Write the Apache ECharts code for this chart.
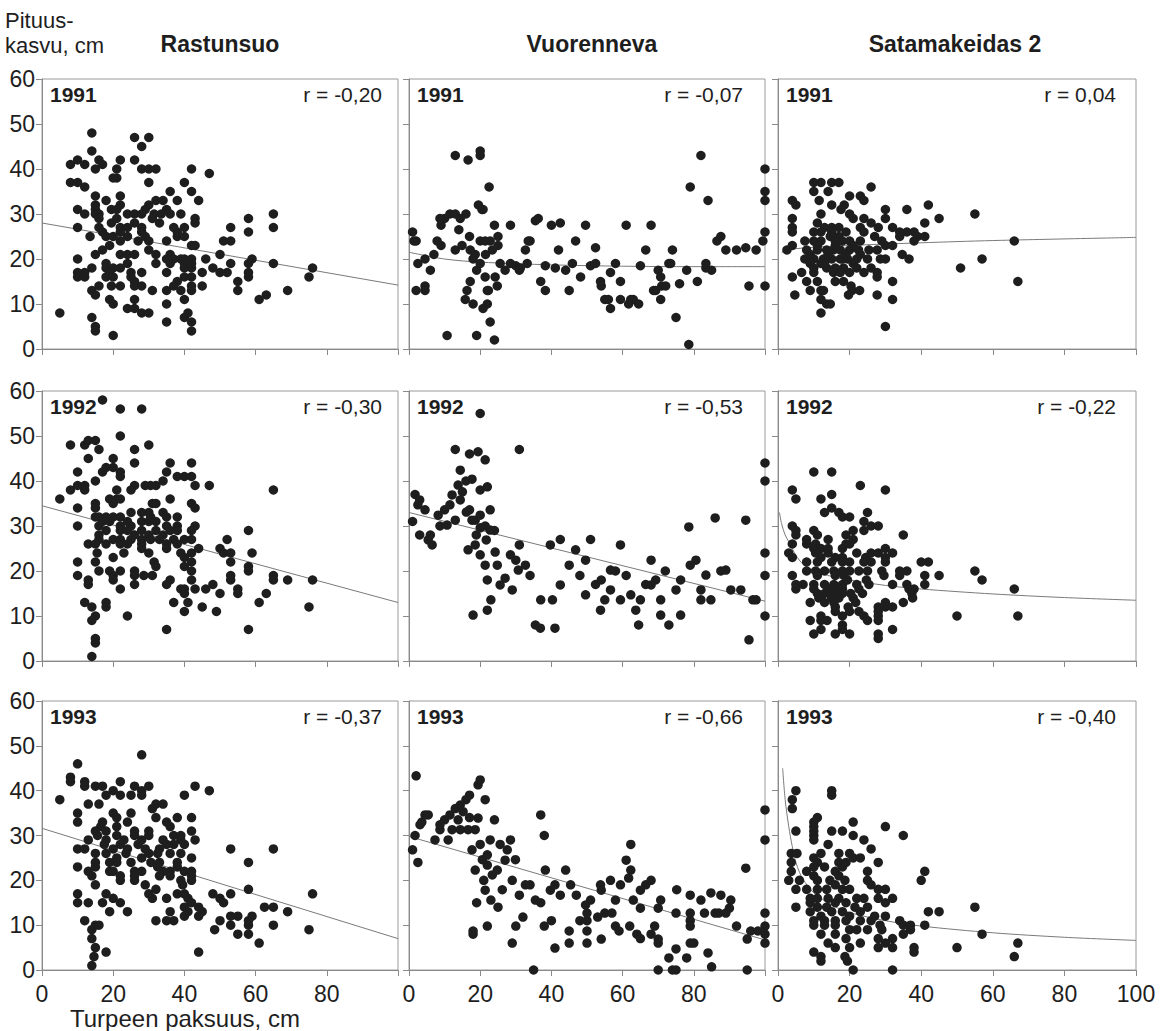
<!DOCTYPE html>
<html><head><meta charset="utf-8">
<script src="https://cdn.jsdelivr.net/npm/echarts@6/dist/echarts.min.js"></script>
<style>html,body{margin:0;padding:0;background:#fff}#c{width:1166px;height:1031px}</style>
</head><body><div id="c"></div>
<script>
// ---------- DATA ----------
const sites = ['Rastunsuo', 'Vuorenneva', 'Satamakeidas 2'];
const years = ['1991', '1992', '1993'];
const rLabels1991 = ['r = -0,20', 'r = -0,07', 'r = 0,04'];
const rLabels1992 = ['r = -0,30', 'r = -0,53', 'r = -0,22'];
const rLabels1993 = ['r = -0,37', 'r = -0,66', 'r = -0,40'];
const xTicks = [0, 20, 40, 60, 80, 100];
const yTicks = [0, 10, 20, 30, 40, 50, 60];
const yAxisTitle = ['Pituus-', 'kasvu, cm'];
const xAxisTitle = 'Turpeen paksuus, cm';

const rast91 = [[14,48],[26,47],[30,47],[28,45],[14,44],[8,41],[10,42],[12,41],[16,42],[17,41],[15,40],[22,42],[21,40],[21,38],[20,38],[26,42],[28,40],[30,40],[32,40],[30,37],[42,40],[47,39],[8,37],[10,37],[12,36],[40,37],[42,35],[36,35],[44,33],[38,33],[15,34],[15,32],[18,33],[22,34],[22,32],[15,31],[16,30],[15,30],[19.5,31],[21,31],[10,31],[12,30],[16,29],[30,32],[32,33],[34,33],[29,31],[31.5,30],[33.5,30],[35,31],[36,30],[24,30],[26,30],[28,30],[39,30],[31,29],[33,28],[43,29],[43,28],[10,27],[16,27],[19.5,28],[21,29],[22,27],[24,27],[26,28],[28,27],[37,27],[40,27],[38,26],[13.5,25],[17,26],[18,25],[20,25],[22,26],[24,25],[28,26],[29,25],[30,24],[27,24],[22,24],[19,23],[35,24],[38,25],[40,25],[53,27],[58,29],[58,26],[65,30],[65,27],[51,24],[53,24],[30,22],[42,23],[43,23],[17,22],[15,21],[22,21],[24,21],[26,21],[32,21],[36,21],[50,21],[10,20],[35,20],[37,20],[39,20],[40,20],[42,20],[46,20],[59,20],[18,19],[24,19],[32,19],[36,19],[40,19],[42,19],[53,19],[58,19],[65,19],[10,17],[12,17],[14,18],[18,18],[20,18],[22,18],[19,17],[25,17],[28,17],[35,17],[40,18],[42,18],[45,17],[48,18],[50,17],[52,17],[76,18],[75,16],[10,16],[12,16],[18,16],[20,16],[25,16],[40,16],[42,16],[58,17],[58,16],[26,15],[38,15],[55,15],[14,13],[16,14],[19.5,14],[22,14],[26,14],[28,14],[31,13],[35,13],[37,14],[39,13],[42,14],[42,13],[45,14],[55,13],[69,13],[15,12],[26,11],[40,11],[63,12],[61,11],[19,11],[20,10],[24,9],[26,9],[28,8],[30,8],[35,10],[5,8],[14,7],[40,7],[41,8],[35,6],[42,6],[15,5],[15,4],[42,4],[20,3]];

const vuor91 = [[1,26],[2,24],[2.5,19],[2,13],[4.5,14],[6,17.5],[7,21],[9,23],[9,27.5],[10,29],[11.5,30],[10.7,3],[13,22],[14,26.5],[16,30],[17,25],[18,20],[19,17.5],[19.5,32],[20.5,31],[20,24],[21.5,21],[22,13],[22,10],[19,3],[24,2],[24,27.5],[25,23],[25.6,19],[24.8,14],[27,17.5],[28.5,27.5],[30,18.5],[31,17.5],[32.7,22],[34,24],[35.5,28.5],[37,15],[38.3,18.5],[40,27.5],[42,22],[44,17.5],[45,13],[46.8,24],[49.6,27.5],[51,18.5],[52.4,22.5],[54,14],[55,11],[56.6,17],[58,19],[59.4,11],[61,27.5],[61.7,10],[63,11],[64.5,10],[65,18.5],[66.5,22],[68,27.5],[68.7,13],[70,17.5],[71,14],[73,19],[74,22],[75,7],[76,14.5],[78,17.5],[78.6,1],[79,36],[81,15],[82,43],[83.4,18],[84,33],[85,17.5],[86.5,24],[87.6,25],[89,22],[92,22],[94.6,22.5],[95.5,14],[97.5,22],[99.4,24],[100,40],[100,35],[100,33],[100,26],[100,14],[13,43],[20,44],[20,43],[16.6,42],[22.5,36],[1.4,24],[4.5,20],[4.5,13],[7.9,24],[8.7,29],[13,30],[14.4,29],[14.9,23],[17.2,22],[18.6,21],[20.8,31],[21.4,24],[22.8,24],[23.4,22],[25,25],[24.2,16],[22.3,13],[21.4,16],[20,19],[17.2,15],[16.3,13],[15.8,11],[18,10],[20.8,9],[22.8,6],[28.5,19],[31.3,18],[33.2,19],[36.3,29],[33.5,24],[42.5,28],[38.3,13],[41.1,18],[45.9,19],[48.2,16],[52.4,19],[53.8,15],[56,11],[56.6,9],[59.4,15],[62.3,11],[69.3,13],[70.7,16],[70.7,11],[72.1,14],[73.5,19],[83.4,19]];

const sata91 = [[10,37],[12,37],[15,37],[17,37],[26,36],[10,35],[14,35],[11.5,33],[15,32],[20,34],[23,34],[24,33],[4,33],[5,32],[18.5,32],[17.6,31],[20,30],[21,29],[12,30],[11,28],[4,29],[4,27],[4,26],[30,31],[30,29],[36,31],[42,32],[45,29],[55,30],[41,28],[24,29],[26,28],[23,27],[15,27],[13,27],[17,27],[12,26],[10,26],[19,26],[28,27],[32,27],[24,26],[27,25],[34,26],[36,26],[38,26],[41,25],[39,25],[34,25],[38,24],[7.5,24],[10,24],[12,24],[14.6,25],[17,25],[18,24],[20,24],[23,24],[16,23],[29,24],[30,23],[32,23],[66,24],[2.5,22],[4,23],[8,22],[11,22],[13.6,22],[15.5,22],[17.4,22],[20,22],[22.5,22],[25.4,22],[27.7,22],[7.5,20],[10,20],[12.7,20],[15,20],[17.4,20],[19.4,20],[23,21],[25,20],[28.6,20],[30,20],[34.7,21],[36.6,20],[57,20],[9,19],[12,19],[13.6,18],[16,18],[18.3,18],[21,19],[22,18],[26,18],[10,18],[51,18],[4,16],[6.6,17],[10,17],[15.5,17],[17.4,17],[20,17],[24,17],[27.7,17],[27.7,16],[8,15],[11,15],[16,15],[18.3,15],[20.4,14],[32,15],[67,15],[9,13],[12,13],[12.7,13],[20.7,13],[22.8,13],[4.7,12],[19.7,12],[27.7,12],[12,11],[32,11],[13.6,10],[14.6,10],[12,8],[30,5],[14,21],[16,24],[19,21],[21,23],[13,19],[18,20],[22,20],[11,23],[15,26],[9,21]];

const rast92 = [[17,58],[22,56],[28,56],[22,50],[8,48],[12,48],[13,49],[15,49],[16,47],[13,45],[20,45],[26,47],[26,44],[30,48],[10,42],[17,42],[18,43],[20,43],[22,42],[22,41],[15,40],[36,44],[42,44],[35,42],[38,41],[40,41],[42,41],[34,40],[8,38],[10,39],[12,39],[12,38],[21,38],[26,39],[25,38],[29,39],[30.5,39],[32,39],[43,39],[47,39],[65,38],[5,36],[19,36],[21,36],[22,36],[20,35],[15,35],[10,34],[15,34],[31,35],[32,35],[36,36],[42,35],[43,34],[15,32],[16,32],[18,32],[20,32],[22,32],[25,33],[28,33],[30,33],[30.5,32],[34,33],[35,32],[38,32],[10,30],[16,30],[17,31],[19,31],[22,30],[24,31],[25,30],[28,31],[30,31],[32,31],[35,30],[38,30],[43,30],[16,28],[18,29],[22,29],[24,29],[26,28],[28,29],[30,28],[32,29],[34,28],[36,29],[38,29],[42,29],[58,29],[16,27],[20,27],[22,27],[25,27],[28,27],[30.5,27],[33,27],[37,27],[40,27],[42,27],[52,27],[13,26],[15,26],[18,26],[22,26],[24,26],[28,26],[35,26],[38,26],[28,25],[35,25],[44,25],[50,25],[15.5,24],[20,23],[23,24],[30,24],[39,24],[42,24],[51,24],[53,24],[59,24],[15,22],[10,22],[31.5,22],[40,23],[42,22],[53,22],[58,21],[16,20],[19,20],[22,20],[26,20],[32,21],[40,21],[42,20],[58,20],[10,19],[20,19],[26,19],[28.6,19],[31,19],[53,19],[65,19],[65,18],[69,18],[76,18],[13,18],[20,18],[36,18],[42,18],[53,18],[13,17],[26,17],[35,17],[22,16],[39,16],[40,16],[43,16],[46,16],[48,17],[55,16],[40,15],[50,15],[55,15],[63,15],[12,13],[18,13],[37,13],[41,13],[61,13],[14,12],[18,12],[45,12],[75,12],[40,11],[49,11],[24,10],[15,10],[14,9],[35,7],[58,7],[15,5],[15,4],[14,1]];

const vuor92 = [[20,55],[13,47],[17,46],[19.4,46.5],[21.4,44.7],[31,47],[14.4,42.4],[16,40],[17.7,40.4],[20,38],[22,38.7],[1.7,37],[3,35.8],[4.5,33.6],[6,28],[3,28],[8.7,30],[10,33.6],[11.5,34.7],[13,31.3],[14.4,35.8],[17,33.6],[18.6,31.3],[20,32.4],[21.4,30],[22.8,33.6],[24,29],[16.6,24.7],[18.6,25.8],[20,23.6],[21.4,21.3],[22,18],[23,13.6],[22,11.3],[18,10.2],[28.5,23.6],[30,22.4],[31,25.8],[34,19],[37,13.6],[35.5,8],[41,7.3],[39.7,25.8],[42.5,27],[45,21.3],[48,19],[49.6,22.4],[51,27],[52.4,17],[54,18],[55,13.6],[56.6,15.8],[58,20],[59.4,25.8],[61,19],[62.3,14.7],[63.7,11.3],[64.5,8],[66.5,17],[68,22.4],[69.3,18],[70.7,13.6],[72,20],[73,8],[75,15.8],[76.3,10.2],[78.6,29.8],[80.6,22.4],[82,15.8],[84.8,13.6],[86,31.8],[87.6,20],[90.4,15.8],[94.6,31.3],[95.5,4.7],[97.5,13.6],[100,44],[100,40],[100,19],[100,10],[100,24],[1,31],[2.5,34.7],[5.4,26.9],[6.5,25.8],[8.2,32.4],[10.7,30.2],[12.1,36.9],[13.8,39.1],[15,37.6],[16.1,33.1],[17.7,31.3],[18.9,28],[20,29.6],[21.7,26.9],[22.8,29.1],[24.2,24.2],[24.8,21.3],[25.6,16.9],[27,18.4],[29,15.8],[30.7,20.2],[32.7,21.3],[36.9,7.3],[40.3,13.6],[42.5,16.9],[46.8,24.7],[49.6,14.7],[53.8,11.3],[56.6,20.2],[59.4,13.6],[65,13.6],[68,16.9],[70.7,10.2],[76.3,18],[79,21.3],[82,13.6],[83.4,19.1],[89,20.2],[93.2,15.8],[96.6,13.6]];

const sata92 = [[10,42],[15,42],[23,39],[30,38],[4,38],[5,36],[12,36],[15,37],[15,34],[13,33],[17,33],[18,32],[20,32],[25,33],[24,31],[26,30],[28,30],[24,29],[21,29],[4,30],[5,29],[5,28],[10,29],[11,28],[19,28],[35,28],[4,26],[8,27],[8,26],[10.5,26],[14,27],[21,27],[20,26],[10,25],[12,25],[14,25],[18,25],[19,26],[3,24],[4,23],[10.5,24],[12,23],[14,24],[16,23],[18,23],[22,24],[26,24],[28,24],[30,25],[30,23],[32,24],[24.5,23],[8,22],[11,22],[15,22],[18,22],[20,22],[24,22],[26,22],[30,22],[40,22],[42,22],[8,20],[10.5,20],[13,20],[15.6,20],[18,20],[20,20],[22.6,20],[25,20],[29,20],[34,20],[36,20],[55,20],[4,19],[11,19],[16,19],[18.4,19],[29.6,19],[34,19],[41,19],[45,19],[5,17],[7,17],[10,17],[13,17],[15.6,17],[18,17],[19.4,18],[22,17],[24.7,18],[25.4,17],[32,17],[36,17],[41,17],[57,18],[5,16],[10,16],[14.7,16],[16,16],[18,16],[22.6,16],[36.6,16],[38,16],[11,15],[13,15],[15.6,15],[18,15],[20.3,15],[23.6,15],[37.4,15],[66,16],[11.4,14],[15,14],[17,14],[21,14],[37.6,14],[9,13],[13,13],[15.6,13],[21.7,13],[30,13],[35,13],[16,12],[19.6,12],[28,12],[30,12],[32,12],[16,11],[20,11],[22.6,11],[28,11],[12,10],[18,10],[24,10],[28,10],[50,10],[67,10],[9,9],[12,9],[13.7,9],[25,9],[28,9],[18,8],[12,7],[18,7],[32,7],[10,6],[16,6],[20,6],[28,6],[28,5]];

const rast93 = [[28,48],[10,46],[8,43],[8,42],[5,38],[12,42],[12,41],[15,41],[17,41],[22,42],[26,41],[28,40],[30,41],[43,41],[47,40],[40,39],[20,40],[18,39],[22,39],[25,39],[28,39],[13,37],[16,37],[32,37],[34,37],[31,36],[10,35],[10,33],[20,35],[25,35],[21,34],[24,33],[32,34],[38,34],[42,34],[35,33],[17,33],[16.5,32],[15,31],[21,32],[18,31],[26,31],[30,31],[36,32],[42,31],[13,29],[15.6,30],[18,29],[21,30],[23,29],[26,30],[28,29],[30,30],[34,29],[37,30],[39,30],[39,29],[43,29],[10,27],[12,27],[17.5,28],[20,27],[22,28],[24,27],[27,28],[29,27],[33,27],[35,28],[37,28],[40,28],[53,27],[65,27],[15,26],[18,26],[21,25],[23.6,26],[30,26],[32.5,26],[36,26],[39,26],[42,25],[15,24],[19,24],[21,24],[25,24],[28,25],[30.6,24],[33,24],[38,24],[58,24],[10,23],[15,23],[26,22],[28,22],[32.5,23],[34,22],[36,22],[38,23],[40,22],[42,22],[13,22],[14,21],[19,22],[20,22],[22,21],[26,21],[33,21],[36,21],[42,21],[15,19],[22,20],[26,20],[29,19],[39,20],[39.5,19],[42,20],[10,17],[18,17],[30,17],[32,18],[38,17],[40,17],[48,17],[53,17],[58,18],[76,17],[10,15],[13,15],[17,15],[20,16],[22,15],[31,16],[35,16],[41,16],[42,15],[50,16],[51,15],[19,13],[24,13],[36,13],[40,14],[41,13],[44,14],[45,13],[62.5,14],[65,14],[69,13],[12,11],[32,11],[35,11],[37,11],[40,12],[44,12],[50,11],[53,12],[55,12],[59,12],[14,9],[15,10],[16,10],[48.5,9],[53,10],[58,10],[58,11],[65,10],[75,9],[14,7],[55,8],[58,8],[61,6],[15,5],[18,4],[14.6,3],[44,4],[14,1]];

const vuor93 = [[1.7,30],[2.5,24],[1,26.8],[2,43.3],[3.6,33],[4.5,34.6],[8.7,31.3],[10,33.5],[11.5,34.6],[13,36],[14.4,36.8],[16,38],[17,39],[19.4,41.3],[20,42.4],[21.4,38],[17,34],[14.4,31.3],[18.6,31.3],[20,28],[22.8,29],[24,33.5],[25.6,28],[27,24.5],[22,23.4],[21,20],[21.4,17.8],[18.6,22.3],[23,15.6],[28.5,29],[29,20],[31,16.7],[34,19],[37,34.6],[38,30],[39.7,17.8],[41,19],[44,22.3],[47,16.7],[51,15.6],[54,17.8],[56.6,20],[59.4,19],[61,24.5],[62.3,22.3],[62.3,28],[65,17.8],[68,20],[79,16.7],[82,15.6],[87.6,16.7],[94.6,22.7],[100,29],[100,35.7],[19,15],[25,14],[18,8],[18,8.7],[22,9.8],[29,6],[30,9.8],[32,11.8],[35,0],[37,15],[38,9.8],[40,11],[41,4.9],[45,8.7],[45,6],[48,11],[50,12.7],[50,11],[50,8.7],[50,6],[53,11.8],[54,6.9],[55,12.7],[57,12.7],[58,9.8],[59,8.7],[62,9.8],[63,15.6],[65,13.8],[64,8],[65,7],[68,8],[69,9.8],[70,6.9],[70,6],[70,13.8],[70,0],[73,2.7],[75,4.7],[74,0],[75,0],[75,12.7],[78,2.7],[79,12.7],[79,11],[79,9.8],[79,6],[80,6],[83,12.7],[84,3.8],[85,0.7],[86,12.7],[87,12.7],[89,12.7],[90,13.8],[92,9.8],[95,6.9],[96,8.7],[98,8.7],[95,0],[100,12.7],[100,9.8],[100,8],[100,6],[3.1,32.4],[5.4,34.6],[7.3,29],[8.7,32.4],[11,29],[12.1,31.3],[13.8,33.5],[15.2,35.3],[16.6,31.3],[17.7,26.8],[19.4,33.9],[20.6,24.6],[22,25.7],[23.4,21.2],[24.8,22.3],[26.2,17.9],[27.6,26.8],[29.9,24.6],[32.7,19],[35.5,15.6],[38.3,22.3],[42.5,16.7],[45.4,19],[49.6,14.5],[53.8,19],[58,15.6],[61.7,20.5],[66.5,19],[70.7,15.6],[75.2,17.9],[84.8,17.2],[90.4,15.6]];

const sata93 = [[5,40],[15,40],[15,39],[4,38],[4,36],[11,34],[10,33],[10,32],[21,33],[30,32],[5,31],[10,31],[15,31],[18,31],[10,30],[21,30],[35,30],[10,29],[24,29],[14,28],[26,27],[3.7,26],[5.3,26],[12,26],[17,26],[20,26],[21,25],[23,25],[3.7,24],[10,25],[11,24],[17,24],[19,24],[28,24],[3.7,22],[8,22],[10,23],[13,23],[16,22],[18,23],[25,22],[41,22],[3,20],[6,20],[10,21],[11,20],[14.5,20],[17,21],[18.7,20],[25,20],[40,20],[26,19],[5,18],[8,18],[11,18],[13.6,18],[16,19],[18,18],[20,18],[28,18],[30,18],[9,16],[11,16],[14,16],[17,16],[22,16],[24,16],[28,16],[32,16],[5,14],[9,15],[11,14],[13.6,14],[16,15],[19,15],[21.5,14],[25,14],[30,15],[55,14],[42,13],[45,13],[9,13],[12,12],[15,13],[18,13],[20,12],[23,13],[27,12],[30,12],[10,11],[13,11],[16,11],[19,11],[23,11],[26,11],[34,11],[35,10],[37,10],[41,10],[10,10],[13,10],[16,10],[20,9],[22,9],[25,9],[28.5,10],[29,9],[37,9],[35,8],[57,8],[12,8],[16,8],[19,7],[28,7],[32,7],[14,6],[16,5],[20,5],[23,6],[28,5],[30,6],[32,5],[38,5],[38,4],[50,5],[67,6],[10,4],[12,3],[12,2],[18.7,3],[19.4,2],[21,0],[32,0],[66,3]];

// regression curves
const rast91Fit = [[0,28],[100,14.2]];
const vuor91Fit = [[0,21.5],[10,20],[20,19.3],[40,18.7],[60,18.4],[80,18.3],[100,18.3]];
const sata91Fit = [[1,21.5],[5,22.3],[20,23],[40,23.6],[60,24.1],[100,24.8]];
const rast92Fit = [[0,34.5],[100,13]];
const vuor92Fit = [[0,33],[100,13.3]];
const sata92Fit = [[0.4,33],[1,30.5],[2,28],[3,26.5],[5,23.5],[7,21.5],[10,20],[15,18.8],[20,18],[30,16.8],[40,16],[60,14.9],[80,14.1],[100,13.5]];
const rast93Fit = [[0,31.6],[100,7]];
const vuor93Fit = [[0,29.8],[100,6.7]];
const sata93Fit = [[1.3,45],[2,38],[3,32],[4,27.5],[5,24],[6,21.8],[7,20.2],[10,17.2],[15,14.5],[20,12.8],[30,11],[40,9.8],[60,8.3],[80,7.3],[100,6.6]];

// ---------- LAYOUT ----------
const panels = [
  [rast91, vuor91, sata91],
  [rast92, vuor92, sata92],
  [rast93, vuor93, sata93]
];
const fits = [
  [rast91Fit, vuor91Fit, sata91Fit],
  [rast92Fit, vuor92Fit, sata92Fit],
  [rast93Fit, vuor93Fit, sata93Fit]
];
const rLabels = [rLabels1991, rLabels1992, rLabels1993];

const L = [42, 409, 778], W = [356, 356, 358];
const T = [79, 391, 701], H = [270, 270, 269];
const FONT = '"Liberation Sans", Arial, Helvetica, sans-serif';
const INK = '#1e1e1e';
const LINE = '#8a8a8a';

const grid = [], xAxis = [], yAxis = [], series = [], graphic = [];
for (let r = 0; r < 3; r++) {
  for (let c = 0; c < 3; c++) {
    const g = r * 3 + c;
    grid.push({left: L[c], top: T[r], width: W[c], height: H[r], show: true,
      borderColor: '#9a9a9a', borderWidth: 1, containLabel: false});
    const xMin = xTicks[0], xMax = xTicks[xTicks.length - 1];
    const yMin = yTicks[0], yMax = yTicks[yTicks.length - 1];
    const xBase = {gridIndex: g, type: 'value', min: xMin, max: xMax, interval: xTicks[1] - xTicks[0],
      splitLine: {show: false}, axisLine: {onZero: false, lineStyle: {color: LINE, width: 1}}};
    const yBase = {gridIndex: g, type: 'value', min: yMin, max: yMax, interval: yTicks[1] - yTicks[0],
      splitLine: {show: false}, axisLine: {onZero: false, lineStyle: {color: LINE, width: 1}}};
    xAxis.push(Object.assign({}, xBase, {
      axisTick: {show: true, inside: false, length: 6, lineStyle: {color: LINE}},
      axisLabel: {show: r === 2, margin: 12, color: INK, fontSize: 23, fontFamily: FONT,
        formatter: v => (c < 2 && v === xMax) ? '' : String(v)}
    }));
    xAxis.push(Object.assign({}, xBase, {
      axisLine: {show: false}, axisLabel: {show: false},
      axisTick: {show: true, inside: true, length: 6, lineStyle: {color: LINE}}
    }));
    yAxis.push(Object.assign({}, yBase, {
      axisTick: {show: true, inside: false, length: 6, lineStyle: {color: LINE}},
      axisLabel: {show: c === 0, margin: 7, color: INK, fontSize: 23, fontFamily: FONT}
    }));
    yAxis.push(Object.assign({}, yBase, {
      axisLine: {show: false}, axisLabel: {show: false},
      axisTick: {show: true, inside: true, length: 6, lineStyle: {color: LINE}}
    }));
    series.push({type: 'line', xAxisIndex: 2 * g, yAxisIndex: 2 * g, data: fits[r][c],
      showSymbol: false, smooth: fits[r][c].length > 2 ? 0.3 : false, silent: true,
      lineStyle: {color: '#7a7a7a', width: 1}, z: 1});
    series.push({type: 'scatter', xAxisIndex: 2 * g, yAxisIndex: 2 * g, data: panels[r][c],
      symbol: 'circle', symbolSize: 9.5, clip: false, silent: true,
      itemStyle: {color: INK, opacity: 1}, z: 2});
    graphic.push({type: 'text', x: L[c] + 8, y: T[r] + 5,
      style: {text: years[r], font: 'bold 21px ' + FONT, fill: INK, align: 'left', verticalAlign: 'top'}});
    graphic.push({type: 'text', x: L[c] + W[c] - [16, 22, 20][c], y: T[r] + 5,
      style: {text: rLabels[r][c], font: '21px ' + FONT, fill: INK, align: 'right', verticalAlign: 'top'}});
  }
}
const siteCenters = [220, 592, 955];
sites.forEach((s, i) => graphic.push({type: 'text', x: siteCenters[i], y: 32,
  style: {text: s, font: 'bold 23px ' + FONT, fill: INK, align: 'center', verticalAlign: 'top'}}));
graphic.push({type: 'text', x: 5, y: 9, style: {text: yAxisTitle[0], font: '22px ' + FONT, fill: INK, align: 'left', verticalAlign: 'top'}});
graphic.push({type: 'text', x: 5, y: 34, style: {text: yAxisTitle[1], font: '22px ' + FONT, fill: INK, align: 'left', verticalAlign: 'top'}});
graphic.push({type: 'text', x: 70, y: 1006, style: {text: xAxisTitle, font: '24px ' + FONT, fill: INK, align: 'left', verticalAlign: 'top'}});

const chart = echarts.init(document.getElementById('c'), null, {renderer: 'svg'});
chart.setOption({animation: false, backgroundColor: '#fff', grid, xAxis, yAxis, series, graphic});
</script></body></html>
